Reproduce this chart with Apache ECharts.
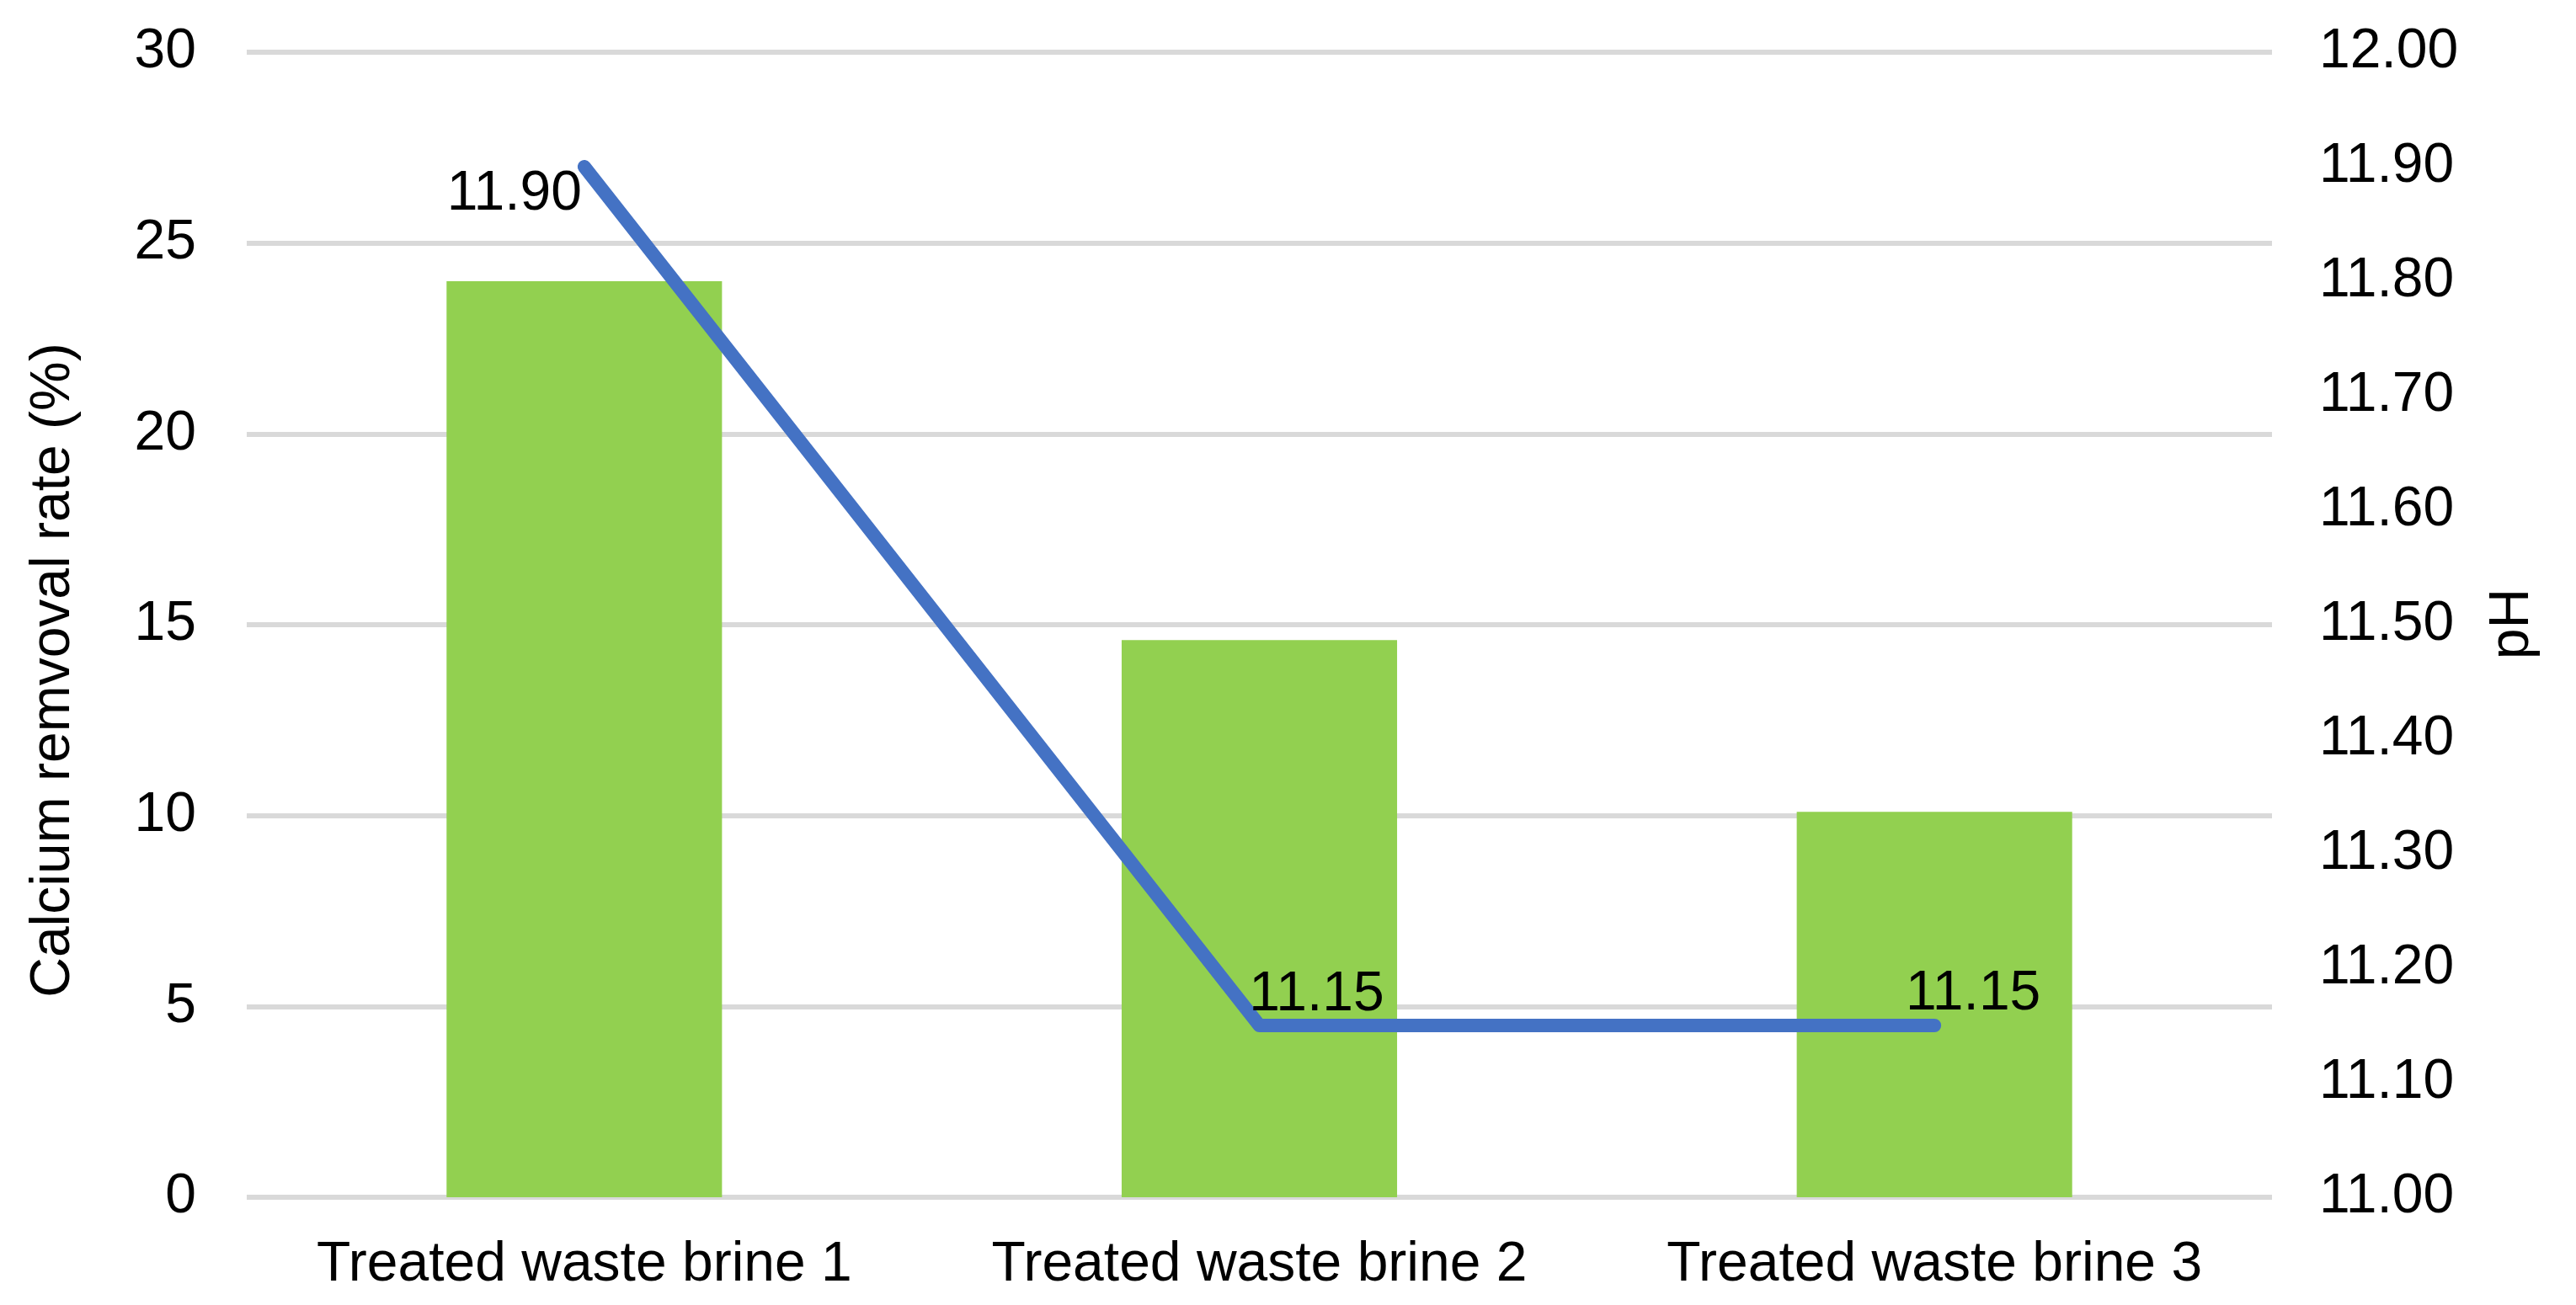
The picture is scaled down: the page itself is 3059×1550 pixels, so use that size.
<!DOCTYPE html>
<html>
<head>
<meta charset="utf-8">
<script src="https://cdn.jsdelivr.net/npm/echarts@6/dist/echarts.min.js"></script>
<style>
html,body{margin:0;padding:0;background:#fff;}
#chart{width:3059px;height:1550px;}
</style>
</head>
<body>
<div id="chart"></div>
<script>
var categories = ['Treated waste brine 1', 'Treated waste brine 2', 'Treated waste brine 3'];
var removalRate = [24.0, 14.6, 10.1];
var phValues = [11.90, 11.15, 11.15];
var leftTitle = 'Calcium remvoval rate (%)';
var rightTitle = 'pH';
var labelOffsets = [[-83, 33], [68, -36], [46, -37]];

var FONT = '"Liberation Sans", Arial, sans-serif';
var FS = 66;

var chart = echarts.init(document.getElementById('chart'));
var lineData = phValues.map(function (v, i) {
  return { value: v, label: { offset: labelOffsets[i] } };
});
chart.setOption({
  animation: false,
  backgroundColor: '#ffffff',
  grid: { left: 293, right: 361, top: 62, bottom: 128 },
  xAxis: {
    type: 'category',
    data: categories,
    axisLine: { show: false },
    axisTick: { show: false },
    axisLabel: { color: '#000', fontFamily: FONT, fontSize: FS, margin: 48, interval: 0 }
  },
  yAxis: [
    {
      type: 'value', min: 0, max: 30, interval: 5,
      axisLine: { show: false }, axisTick: { show: false },
      axisLabel: { color: '#000', fontFamily: FONT, fontSize: FS, margin: 60 },
      splitLine: { lineStyle: { color: '#D9D9D9', width: 6 } }
    },
    {
      type: 'value', min: 11, max: 12, interval: 0.1, position: 'right',
      axisLine: { show: false }, axisTick: { show: false },
      axisLabel: { color: '#000', fontFamily: FONT, fontSize: FS, margin: 56,
        formatter: function (v) { return v.toFixed(2); } },
      splitLine: { show: false }
    }
  ],
  series: [
    {
      type: 'bar', data: removalRate, barWidth: '40.8%',
      itemStyle: { color: '#92D050' }, z: 2
    },
    {
      type: 'line', yAxisIndex: 1, data: lineData,
      symbol: 'circle', symbolSize: 1, showSymbol: true,
      itemStyle: { color: '#4472C4' },
      lineStyle: { color: '#4472C4', width: 16, cap: 'round', join: 'round' },
      label: {
        show: true, position: 'inside', color: '#000', fontFamily: FONT, fontSize: FS,
        align: 'center', verticalAlign: 'middle',
        formatter: function (p) { return p.value.toFixed(2); }
      },
      z: 3
    }
  ],
  graphic: [
    {
      type: 'text', x: 64, y: 796, rotation: Math.PI / 2,
      style: { text: leftTitle, fill: '#000', font: FS + 'px ' + FONT, textAlign: 'center', textVerticalAlign: 'middle' }
    },
    {
      type: 'text', x: 2984, y: 741, rotation: Math.PI / 2,
      style: { text: rightTitle, fill: '#000', font: FS + 'px ' + FONT, textAlign: 'center', textVerticalAlign: 'middle' }
    }
  ]
});
</script>
</body>
</html>
